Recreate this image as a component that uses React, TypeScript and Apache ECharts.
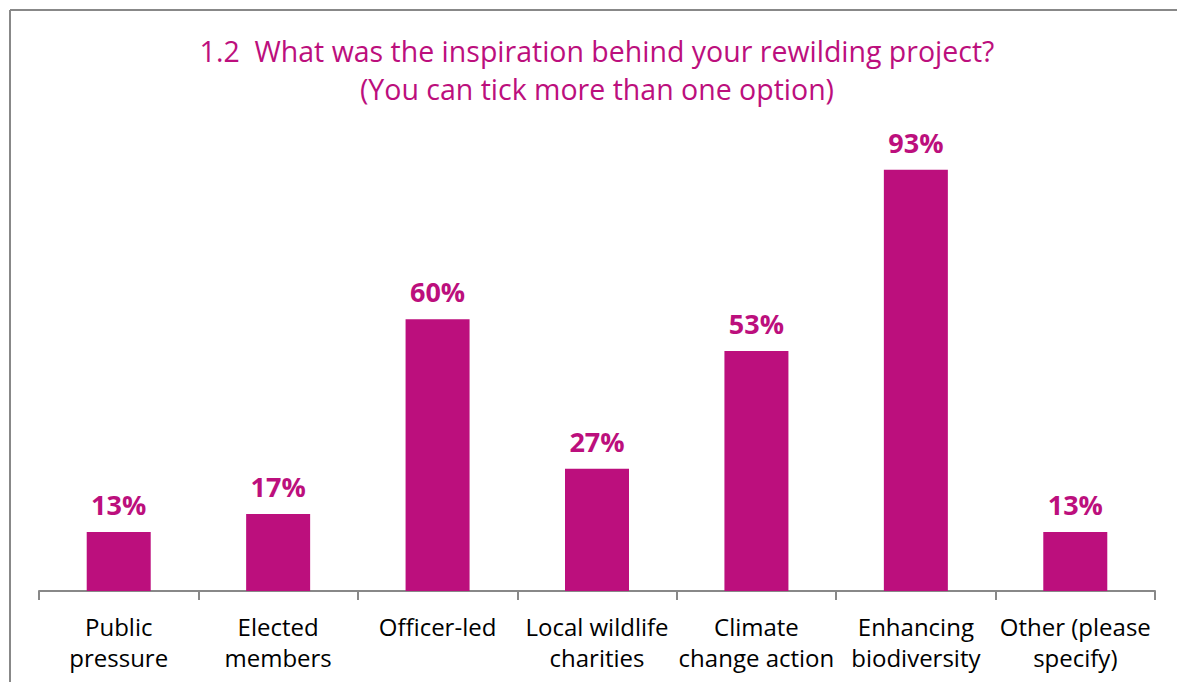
import React, { useEffect, useRef } from "react";
import * as echarts from "echarts";

const categories = [
  "Public\npressure",
  "Elected\nmembers",
  "Officer-led",
  "Local wildlife\ncharities",
  "Climate\nchange action",
  "Enhancing\nbiodiversity",
  "Other (please\nspecify)",
];
const values = [13, 17, 60, 27, 53, 93, 13];
const titleLines = [
  "1.2  What was the inspiration behind your rewilding project?",
  "(You can tick more than one option)",
];

const MAGENTA = "#BC0F7D";
const FONT = "'Open Sans', 'Noto Sans', sans-serif";

export default function App() {
  const ref = useRef<HTMLDivElement>(null);
  useEffect(() => {
    const chart = echarts.init(ref.current!, null, { renderer: "svg" });
    chart.setOption({
      animation: false,
      backgroundColor: "#ffffff",
      graphic: [
        { type: "line", shape: { x1: 10, y1: 10, x2: 10, y2: 682 }, style: { stroke: "#888888", lineWidth: 2 } },
        { type: "line", shape: { x1: 10, y1: 10, x2: 1177, y2: 10 }, style: { stroke: "#888888", lineWidth: 2 } },
        {
          type: "text",
          x: 597,
          y: 51,
          style: {
            text: titleLines[0],
            fill: MAGENTA,
            font: `28.5px ${FONT}`,
            textAlign: "center",
            textVerticalAlign: "middle",
          },
        },
        {
          type: "text",
          x: 597,
          y: 89,
          style: {
            text: titleLines[1],
            fill: MAGENTA,
            font: `28.5px ${FONT}`,
            textAlign: "center",
            textVerticalAlign: "middle",
          },
        },
      ],
      grid: { left: 39, right: 22, top: 138, bottom: 91, containLabel: false },
      xAxis: {
        type: "category",
        data: categories,
        axisLine: { lineStyle: { color: "#888888", width: 2 } },
        axisTick: { show: true, alignWithLabel: false, length: 9, lineStyle: { color: "#888888", width: 2 } },
        axisLabel: {
          interval: 0,
          color: "#000000",
          fontSize: 24,
          fontFamily: FONT,
          lineHeight: 31,
          margin: 20,
        },
      },
      yAxis: {
        type: "value",
        min: 0,
        max: 100,
        show: false,
        splitLine: { show: false },
      },
      series: [
        {
          type: "bar",
          data: values,
          barWidth: 64,
          itemStyle: { color: MAGENTA },
          label: {
            show: true,
            position: "top",
            distance: 14,
            formatter: "{c}%",
            color: MAGENTA,
            fontSize: 27,
            fontWeight: "bold",
            fontFamily: FONT,
          },
        },
      ],
    });
    return () => chart.dispose();
  }, []);
  return (
    <div
      ref={ref}
      style={{ position: "absolute", left: 0, top: 0, width: 1177, height: 682 }}
    />
  );
}
